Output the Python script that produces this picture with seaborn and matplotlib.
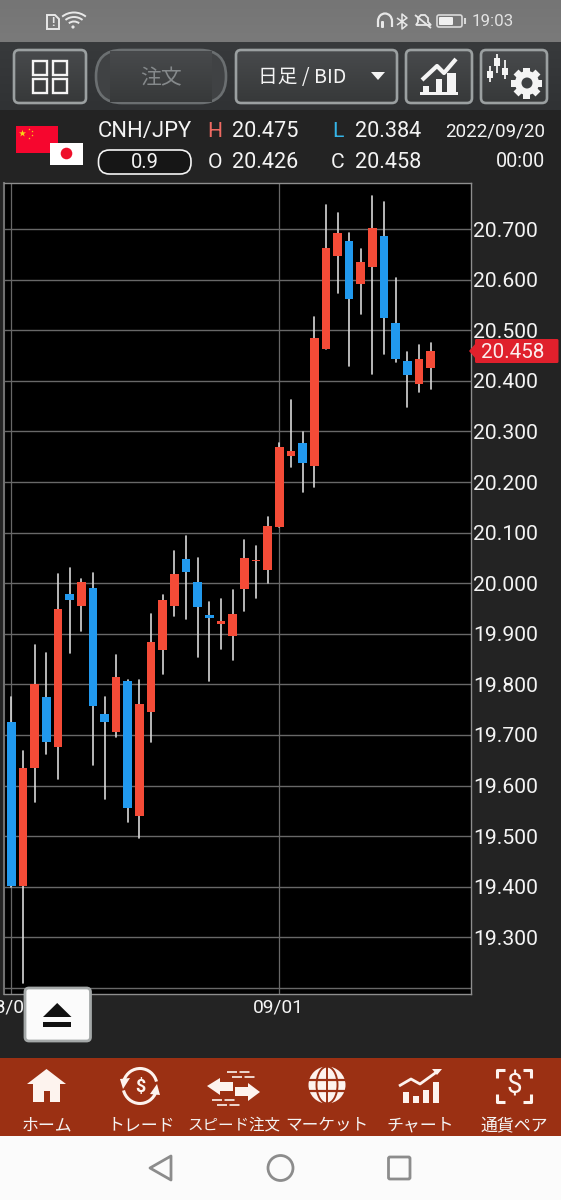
#!/bin/python
import numpy as np
import pandas as pd
import matplotlib
matplotlib.use("Agg")
import matplotlib.pyplot as plt
import seaborn as sns
from matplotlib.patches import FancyBboxPatch, Polygon, Circle, Rectangle, Arc, Ellipse

# Daily candles
idx = list(range(37))
opens = [19.726, 19.402, 19.635, 19.775, 19.677, 19.979, 19.954, 19.991, 19.742, 19.705,
         19.807, 19.539, 19.745, 19.867, 19.954, 20.047, 20.002, 19.937, 19.919, 19.896,
         19.989, 20.043, 20.026, 20.112, 20.251, 20.278, 20.232, 20.463, 20.647, 20.676,
         20.591, 20.625, 20.686, 20.514, 20.439, 20.393, 20.426]
closes = [19.402, 19.635, 19.800, 19.686, 19.949, 19.967, 20.002, 19.758, 19.726, 19.815,
          19.556, 19.762, 19.884, 19.967, 20.018, 20.022, 19.952, 19.932, 19.926, 19.939,
          20.049, 20.046, 20.113, 20.269, 20.261, 20.238, 20.485, 20.662, 20.692, 20.561,
          20.635, 20.701, 20.524, 20.444, 20.412, 20.443, 20.458]
highs = [19.775, 19.668, 19.877, 19.863, 20.018, 20.031, 20.009, 20.020, 19.776, 19.859,
         19.809, 19.809, 19.940, 19.976, 20.063, 20.094, 20.050, 19.962, 19.969, 19.987,
         20.085, 20.074, 20.130, 20.277, 20.362, 20.298, 20.527, 20.748, 20.732, 20.693,
         20.660, 20.765, 20.753, 20.603, 20.456, 20.470, 20.475]
lows = [19.400, 19.210, 19.568, 19.662, 19.613, 19.863, 19.906, 19.641, 19.574, 19.697,
        19.528, 19.497, 19.686, 19.821, 19.935, 19.930, 19.855, 19.806, 19.870, 19.848,
        19.945, 19.971, 20.000, 20.111, 20.230, 20.180, 20.191, 20.462, 20.573, 20.430,
        20.532, 20.414, 20.452, 20.438, 20.348, 20.378, 20.384]
price_ticks = [19.2, 19.3, 19.4, 19.5, 19.6, 19.7, 19.8, 19.9, 20.0, 20.1, 20.2, 20.3, 20.4, 20.5, 20.6, 20.7]
date_ticks = [0, 23]
nav_labels = ["ホーム", "トレード", "スピード注文", "マーケット", "チャート", "通貨ペア"]
nav_sizes = [12.2, 12.2, 11.2, 12.0, 12.2, 12.2]

W, H = 561, 1200
UP = "#f44b37"
DOWN = "#2199ee"
WHITE = "#f4f4f4"
sns.set_theme(style="dark")
plt.rcParams['font.family'] = ['Roboto', 'Noto Sans CJK JP', 'DejaVu Sans']
JP = ['Noto Sans CJK JP', 'Roboto']

fig = plt.figure(figsize=(W / 100, H / 100), dpi=100, facecolor="#232323")


def px_axes(zorder):
    a = fig.add_axes([0, 0, 1, 1], zorder=zorder)
    a.set_xlim(0, W)
    a.set_ylim(H, 0)
    a.axis("off")
    a.patch.set_alpha(0)
    return a


bg = px_axes(0)
ui = px_axes(2)


def gradient(a, x0, x1, y0, y1, c0, c1, zorder=0.5):
    cols = np.array([matplotlib.colors.to_rgb(c0), matplotlib.colors.to_rgb(c1)])
    img = np.linspace(cols[0], cols[1], 64)[:, None, :]
    a.imshow(img, extent=(x0, x1, y1, y0), aspect="auto", zorder=zorder)
    a.set_xlim(0, W)
    a.set_ylim(H, 0)


def rbox(a, x0, y0, x1, y1, r, **kw):
    p = FancyBboxPatch((x0, y0), x1 - x0, y1 - y0, boxstyle=f"round,pad=0,rounding_size={r}", **kw)
    a.add_patch(p)
    return p


def line(a, xs, ys, c=WHITE, lw=1.5, **kw):
    a.plot(xs, ys, color=c, lw=lw, solid_capstyle="butt", **kw)


# --- page background bands
gradient(bg, 0, W, 0, 42, "#757575", "#7a7a7a")
gradient(bg, 0, W, 42, 110, "#383a3c", "#303234")
bg.add_patch(Rectangle((0, 110), W, 948, color="#232323", lw=0))
bg.add_patch(Rectangle((0, 1058), W, 78, color="#9b3013", lw=0))
gradient(bg, 374, 467.5, 1058, 1136, "#fb7a30", "#d44a06")
bg.add_patch(Rectangle((0, 1136), W, 64, color="#fbfbfb", lw=0))

# --- candle chart, frame is x 4-471, y 183-994 in pixels
px_per_idx = 11.65
ax = fig.add_axes([4 / W, 1 - 994 / H, 467 / W, 811 / H], zorder=1, facecolor="black")
df = pd.DataFrame({"idx": idx, "open": opens, "close": closes, "high": highs, "low": lows})
df["bottom"] = df[["open", "close"]].min(axis=1)
df["body"] = (df["close"] - df["open"]).abs()
df["up"] = df["close"] >= df["open"]

ax.hlines(price_ticks, -1, 40, color="#686868", lw=1.0, zorder=1)
ax.vlines(date_ticks, 19, 21, color="#686868", lw=0.9, zorder=1)

wicks = df.melt(id_vars="idx", value_vars=["high", "low"], value_name="price")
sns.lineplot(data=wicks, x="idx", y="price", units="idx", estimator=None, color="#d8d8d8",
             lw=1.2, ax=ax, zorder=2, legend=False)
for is_up, color in [(True, UP), (False, DOWN)]:
    part = df[df["up"] == is_up]
    sns.barplot(data=part, x="idx", y="body", bottom=part["bottom"].values, native_scale=True,
                color=color, saturation=1, width=0.74, errorbar=None, linewidth=0,
                ax=ax, zorder=3)

ax.set_xlim(-7.3 / px_per_idx, 459.7 / px_per_idx)
ax.set_ylim(20.7 - 765 / 506, 20.7 + 46 / 506)
ax.set_xlabel("")
ax.set_ylabel("")
ax.set_xticks([])
ax.grid(False)
ax.yaxis.tick_right()
ax.set_yticks(price_ticks)
ax.set_yticklabels(["" if t == 19.2 else f"{t:.3f}" for t in price_ticks], fontsize=15.2, color=WHITE)
ax.tick_params(axis="y", length=0, pad=1.8)
for s in ax.spines.values():
    s.set_visible(True)
    s.set_color("#8e8e8e")
    s.set_linewidth(1)
ax.spines["left"].set_color("#707070")
ax.spines["left"].set_linewidth(1.5)

# date labels under the frame
for i, lab in zip(date_ticks, ["08/01", "09/01"]):
    ui.text(10.5 + i * px_per_idx, 1007.5, lab, ha="center", va="center", fontsize=13.8, color=WHITE)

# current price tag
rbox(ui, 475, 339, 558.5, 363, 1.5, fc="#e0202c", ec="none")
ui.add_patch(Polygon([(469, 351), (476, 343), (476, 359)], color="#e0202c", lw=0))
ui.text(512.5, 352, "20.458", ha="center", va="center", fontsize=14.9, color="#fbeeee")

# --- status bar
SB = "#e8e8e8"
ui.text(514, 22, "19:03", ha="right", va="center", fontsize=12.2, color="#e2e2e2")
ui.add_patch(Polygon([(47, 15), (55, 15), (59, 19), (59, 29), (47, 29)], fc="none", ec=SB, lw=1.4))
ui.text(52.8, 22, "!", ha="center", va="center", fontsize=9, color=SB, fontweight="bold")
for r in (7, 11.5, 16):
    ui.add_patch(Arc((74, 28.5), r * 1.1 * 2, r * 2, theta1=225, theta2=315, ec=SB, lw=1.4))
ui.add_patch(Circle((73, 27), 1.6, color=SB, lw=0))
ui.add_patch(Arc((385, 21), 14, 15, theta1=180, theta2=360, ec=SB, lw=1.6))
line(ui, [378, 378], [21, 27], SB, 1.6)
line(ui, [392, 392], [21, 27], SB, 1.6)
rbox(ui, 381, 21, 384, 28, 1, fc=SB, ec="none")
line(ui, [397, 407, 402, 402, 407, 397], [18, 25, 29, 14, 18, 25], SB, 1.1)
ui.add_patch(Polygon([(416, 25), (418, 22), (418, 18), (421, 15), (425, 15), (428, 18), (428, 22), (431, 25)], fc="none", ec=SB, lw=1.3))
line(ui, [415, 431], [15, 28], SB, 1.3)
rbox(ui, 437, 15, 462, 27, 2, fc="none", ec="#dadada", lw=1.2)
rbox(ui, 439, 17, 453, 25, 1, fc="#f0f0f0", ec="none")
line(ui, [465, 465], [18, 24], "#dadada", 1.5)

# --- toolbar buttons
for x0, x1 in [(14, 86), (236, 397), (406, 472), (481, 547)]:
    gradient(bg, x0 + 1, x1 - 1, 51, 102, "#484a4c", "#37393a", zorder=1)
    rbox(bg, x0, 50, x1, 103, 5, fc="none", ec="#9ba0a1", lw=1.9, zorder=2)
gradient(bg, 110, 212, 51, 102, "#484a4c", "#37393a", zorder=1)
rbox(bg, 96, 50, 226, 103, 26, fc="#404244", ec="#6b6f71", lw=1.9, zorder=0.9)
for gx, gy in [(33, 61), (53, 61), (33, 79), (53, 79)]:
    ui.add_patch(Rectangle((gx, gy), 14, 14, fc="none", ec=WHITE, lw=1.7))
ui.text(161, 78.5, "注文", ha="center", va="center", fontsize=15, color="#85898b", family=JP)
ui.text(258, 78, "日足 / BID", ha="left", va="center", fontsize=14.2, color=WHITE, family=JP)
ui.add_patch(Polygon([(371, 72), (385, 72), (378, 80)], color=WHITE, lw=0))
# trend icon
ui.add_patch(Rectangle((420, 92), 38, 3, color=WHITE, lw=0))
for bx, by, bw in [(423, 86, 6), (436, 79, 6), (447, 73, 9)]:
    ui.add_patch(Rectangle((bx, by), bw, 93 - by, color=WHITE, lw=0))
line(ui, [422, 437, 444, 456], [80, 66, 73, 59], WHITE, 3)
# candles + gear icon
for cx, cy0, cy1, by0, by1 in [(490, 66, 82, 71, 78), (497, 54, 73, 58, 66), (505, 60, 79, 68, 75)]:
    line(ui, [cx, cx], [cy0, cy1], WHITE, 1.3)
    ui.add_patch(Rectangle((cx - 3, by0), 6, by1 - by0, color=WHITE, lw=0))
ui.add_patch(Circle((527, 83), 12, color=WHITE, lw=0))
for ang in np.arange(0, 180, 45):
    t = matplotlib.transforms.Affine2D().rotate_deg_around(527, 83, ang) + ui.transData
    ui.add_patch(Rectangle((523.5, 67.5), 7, 31, color=WHITE, lw=0, transform=t))
ui.add_patch(Circle((527, 83), 5.5, color="#3e4143", lw=0))

# --- symbol row
ui.add_patch(Rectangle((16, 126), 42, 27, color="#f6062e", lw=0))
ui.scatter([22], [133], marker="*", s=28, color="#f9d616", lw=0)
ui.scatter([29, 32, 32, 29], [128.5, 131, 135, 138], marker="*", s=3, color="#f9d616", lw=0)
ui.add_patch(Rectangle((50, 143), 33, 22, color="white", lw=0))
ui.add_patch(Circle((66.5, 153.5), 5.8, color="#ee0f2a", lw=0))
ui.text(98, 131.5, "CNH/JPY", ha="left", va="center", fontsize=15.8, color=WHITE)
rbox(ui, 98.5, 150, 191, 174, 11, fc="#161616", ec=WHITE, lw=1.2)
ui.text(145, 163, "0.9", ha="center", va="center", fontsize=14.5, color=WHITE)
for lab, c, x, y, val, vx in [("H", "#ee6a62", 215, 131.5, "20.475", 232), ("O", WHITE, 215, 162, "20.426", 232),
                              ("L", "#35b5e8", 338, 131.5, "20.384", 355), ("C", WHITE, 338, 162, "20.458", 355)]:
    ui.text(x, y, lab, ha="center", va="center", fontsize=15.2, color=c)
    ui.text(vx, y, val, ha="left", va="center", fontsize=15.6, color=WHITE)
ui.text(545, 131, "2022/09/20", ha="right", va="center", fontsize=13.5, color=WHITE)
ui.text(545, 161.5, "00:00", ha="right", va="center", fontsize=14.2, color=WHITE)

# --- eject button over the chart
rbox(ui, 25, 988, 90.5, 1041, 4, fc="#fbfbfb", ec="#a4a8a8", lw=2.0, zorder=5)
ui.add_patch(Polygon([(43, 1017), (71.5, 1017), (57.2, 1003)], color="#111111", lw=0, zorder=6))
ui.add_patch(Rectangle((43, 1022), 28.5, 5, color="#111111", lw=0, zorder=6))

# --- bottom nav
nav_x = [46.5, 141, 233.5, 327, 420.5, 514]
for x, lab, fs in zip(nav_x, nav_labels, nav_sizes):
    ui.text(x, 1125, lab, ha="center", va="center", fontsize=fs, color=WHITE, family=JP)
NAV_WHITE = "#fdf3ee"
NAV_BG = "#9b3013"
# home
ui.add_patch(Polygon([(27, 1084), (46.5, 1069), (66, 1084), (60, 1084), (60, 1102), (50, 1102), (50, 1091),
                      (44, 1091), (44, 1102), (33, 1102), (33, 1084)], color=NAV_WHITE, lw=0))
# trade
for th0, th1 in [(200, 345), (20, 165)]:
    ui.add_patch(Arc((140, 1086), 34, 35, theta1=th0, theta2=th1, ec=NAV_WHITE, lw=2.2))
ui.add_patch(Polygon([(120, 1079), (130, 1078), (123, 1089)], color=NAV_WHITE, lw=0))
ui.add_patch(Polygon([(160, 1095), (150, 1094), (157, 1084)], color=NAV_WHITE, lw=0))
ui.text(140, 1086.5, "$", ha="center", va="center", fontsize=13, color=NAV_WHITE, fontweight="bold")
# speed order
ui.add_patch(Polygon([(207, 1086), (220, 1078), (220, 1082), (233, 1082), (233, 1091), (220, 1091), (220, 1095)], color=NAV_WHITE, lw=0))
ui.add_patch(Polygon([(260, 1092), (248, 1083), (248, 1087), (235, 1087), (235, 1096), (248, 1096), (248, 1101)], color=NAV_WHITE, lw=0))
for x0, x1, y in [(227, 252, 1072), (232, 256, 1077), (212, 235, 1100), (217, 240, 1105)]:
    line(ui, [x0, x1], [y, y], NAV_WHITE, 1.2, dashes=(6, 1.5))
# market globe
ui.add_patch(Circle((327, 1085), 18.5, fc=NAV_WHITE, lw=0))
ui.add_patch(Ellipse((327, 1085), 21, 37, fc="none", ec=NAV_BG, lw=1.4))
for y in (1079.5, 1091):
    line(ui, [307, 347], [y, y], NAV_BG, 1.6)
line(ui, [327, 327], [1065, 1105], NAV_BG, 1.4)
# chart
for bx, by in [(403, 1092), (413, 1096), (423, 1090), (433, 1082)]:
    ui.add_patch(Rectangle((bx, by), 6, 1103 - by, color=NAV_WHITE, lw=0))
line(ui, [399, 411, 420, 438], [1086, 1079, 1084, 1071], NAV_WHITE, 2)
ui.add_patch(Polygon([(432, 1069), (442, 1069), (437, 1075)], color=NAV_WHITE, lw=0))
# currency pair
for sx, sy in [(-1, -1), (1, -1), (-1, 1), (1, 1)]:
    cx, cy = 514 + sx * 17, 1086 + sy * 16
    line(ui, [cx, cx, cx - sx * 8], [cy - sy * 8, cy, cy], NAV_WHITE, 2.2)
ui.text(514, 1086, "$", ha="center", va="center", fontsize=20, color=NAV_WHITE)

# --- android nav keys
KEY = "#8c8c8c"
ui.add_patch(Polygon([(171, 1156), (171, 1180), (150, 1168)], fc="none", ec=KEY, lw=2, joinstyle="round"))
ui.add_patch(Circle((280.5, 1168), 12.5, fc="none", ec=KEY, lw=2))
rbox(ui, 388.5, 1157, 410, 1179, 1.5, fc="none", ec=KEY, lw=2)

fig.savefig("out.png", dpi=100, facecolor=fig.get_facecolor())
